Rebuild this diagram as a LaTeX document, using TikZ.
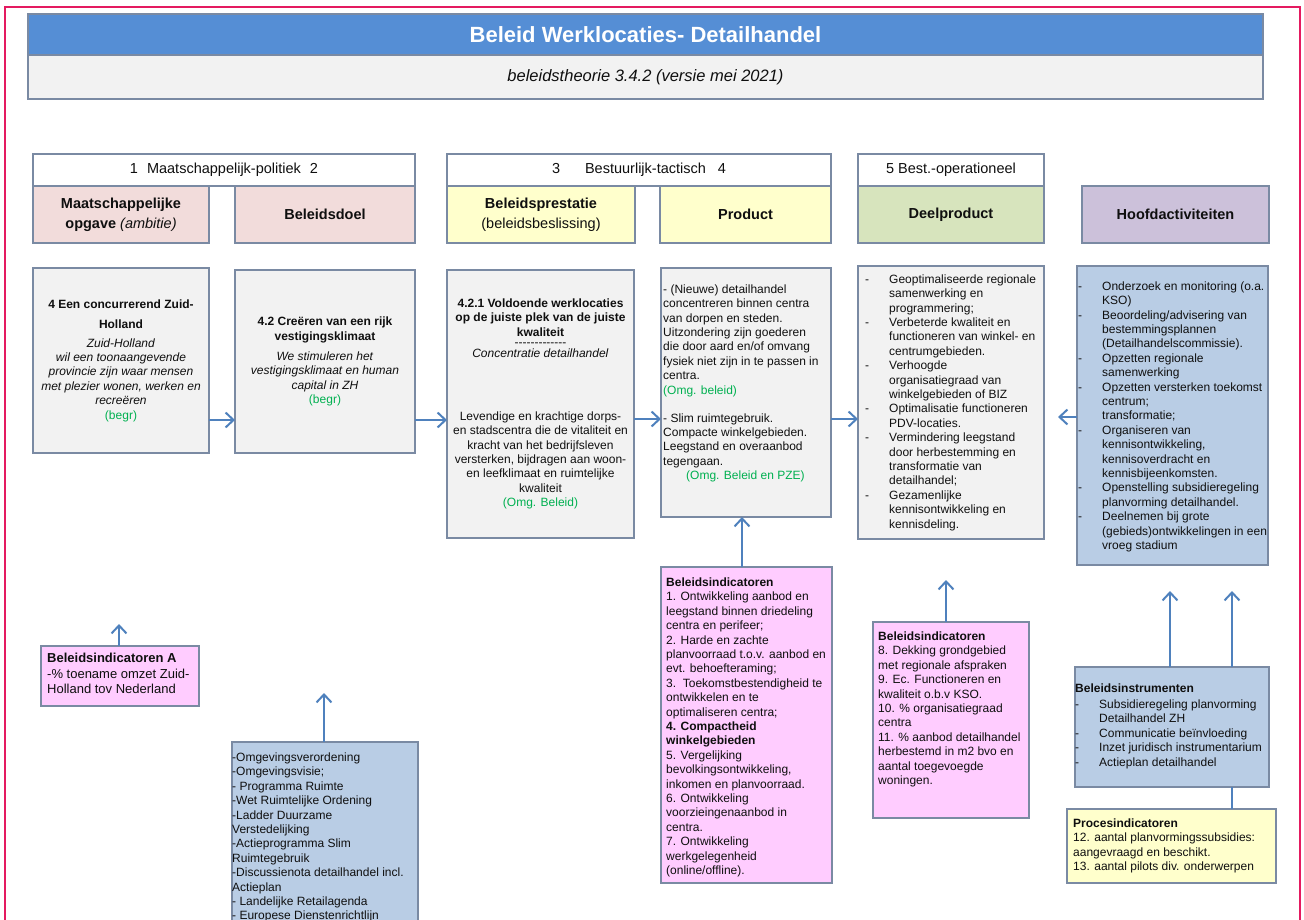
\documentclass[tikz,border=0pt]{standalone}
\usepackage{fontspec}
\setmainfont{Liberation Sans}
\usetikzlibrary{arrows.meta}
\definecolor{titelblauw}{RGB}{85,142,213}
\definecolor{lichtgrijs}{RGB}{242,242,242}
\definecolor{kader}{RGB}{122,138,163}
\definecolor{rand}{RGB}{228,26,96}
\definecolor{roze}{RGB}{242,220,219}
\definecolor{geel}{RGB}{255,255,204}
\definecolor{groen}{RGB}{215,228,189}
\definecolor{paars}{RGB}{204,193,218}
\definecolor{blauw}{RGB}{185,205,229}
\definecolor{indicator}{RGB}{255,204,255}
\definecolor{pijlkleur}{RGB}{79,129,189}
\definecolor{bron}{RGB}{0,176,80}
\definecolor{tekst}{RGB}{15,15,15}
\newcommand{\streep}[1][24pt]{\makebox[#1][l]{-}}
\newcommand{\inspr}[1][24pt]{\hspace*{#1}}
\begin{document}
\begin{tikzpicture}[x=1pt,y=-1pt,
  font=\fontsize{12}{14.4}\selectfont, text=tekst,
  vak/.style={draw=kader,line width=1.2pt,inner sep=0pt,outer sep=0pt},
  kop/.style={vak,fill=white,minimum height=32,font=\fontsize{14.5}{17.4}\selectfont},
  soort/.style={vak,minimum height=57,align=center,font=\fontsize{14.5}{17.4}\selectfont\bfseries},
  inhoud/.style={vak,fill=lichtgrijs,align=center},
  txt/.style={inner sep=0pt,align=left,anchor=north west},
  pijl/.style={draw=pijlkleur,line width=2pt,-{Straight Barb[length=8pt,width=15pt]}},
  lijn/.style={draw=pijlkleur,line width=2pt}]
\useasboundingbox (0,0) rectangle (1304,920);
\clip (0,0) rectangle (1304,920);
\draw [rand,line width=1.5pt] (5,930) |- (1300,7) -- (1300,930);

% titel
\node [vak,fill=titelblauw,minimum width=1235,minimum height=41,text=white,
  font=\fontsize{22}{26}\selectfont\bfseries] (titel) at (645.5,34.5) {Beleid Werklocaties- Detailhandel};
\node [vak,fill=lichtgrijs,minimum width=1235,minimum height=44,
  font=\fontsize{16.5}{20}\selectfont\itshape] (versie) at (645.5,77) {beleidstheorie 3.4.2 (versie mei 2021)};

% kolomkoppen
\node [kop,minimum width=382] (kop12) at (224,170) {1\hspace{9pt}Maatschappelijk-politiek\hspace{9pt}2};
\node [kop,minimum width=384] (kop34) at (639,170) {3\hspace{25pt}Bestuurlijk-tactisch\hspace{12pt}4};
\node [kop,minimum width=186] (kop5) at (951,170) {5 Best.-operationeel};

\node [soort,fill=roze,minimum width=176] (opgave) at (121,214.5) {Maatschappelijke\\[3pt]opgave {\mdseries\itshape (ambitie)}};
\node [soort,fill=roze,minimum width=180] (doel) at (325,214.5) {Beleidsdoel};
\node [soort,fill=geel,minimum width=188] (prestatie) at (541,214.5) {Beleidsprestatie\\[3pt]{\mdseries (beleidsbeslissing)}};
\node [soort,fill=geel,minimum width=171] (product) at (745.5,214.5) {Product};
\node [soort,fill=groen,minimum width=186] (deelproduct) at (951,214.5) {Deelproduct};
\node [soort,fill=paars,minimum width=187] (hoofdact) at (1175.5,214.5) {Hoofdactiviteiten};

% inhoud
\node [inhoud,minimum width=176,minimum height=185] (doelA) at (121,360.5) {%
\textbf{4 Een concurrerend Zuid-}\\[5.6pt]
\textbf{Holland}\\[4.6pt]
\textit{Zuid-Holland}\\
\textit{wil een toonaangevende}\\
\textit{provincie zijn waar mensen}\\
\textit{met plezier wonen, werken en}\\
\textit{recreëren}\\
\textcolor{bron}{(begr)}};
\node [inhoud,minimum width=180,minimum height=183] (doelB) at (325,361.5) {%
\textbf{4.2 Creëren van een rijk}\\[0.6pt]
\textbf{vestigingsklimaat}\\[5.6pt]
\textit{We stimuleren het}\\
\textit{vestigingsklimaat en human}\\
\textit{capital in ZH}\\
\textcolor{bron}{(begr)}};
\node [inhoud,minimum width=187,minimum height=268] (prestC) at (540.5,404) {%
\textbf{4.2.1 Voldoende werklocaties}\\
\textbf{op de juiste plek van de juiste}\\
\textbf{kwaliteit}\\[-3.9pt]
-{}-{}-{}-{}-{}-{}-{}-{}-{}-{}-{}-{}-\\[-3.9pt]
\textit{Concentratie detailhandel}\\[48.6pt]
Levendige en krachtige dorps-\\
en stadscentra die de vitaliteit en\\
kracht van het bedrijfsleven\\
versterken, bijdragen aan woon-\\
en leefklimaat en ruimtelijke\\
kwaliteit\\
\textcolor{bron}{(Omg. Beleid)}};
\node [vak,fill=lichtgrijs,minimum width=170,minimum height=249] (prodD) at (746,392.5) {};
\node [vak,fill=lichtgrijs,minimum width=186,minimum height=273] (deelE) at (951,402.5) {};
\node [vak,fill=blauw,minimum width=191,minimum height=299] (actF) at (1172.5,415.5) {};

\node [txt] (tekstD) at (663,284.5) {%
- (Nieuwe) detailhandel\\
concentreren binnen centra\\
van dorpen en steden.\\
Uitzondering zijn goederen\\
die door aard en/of omvang\\
fysiek niet zijn in te passen in\\
centra.\\
\textcolor{bron}{(Omg. beleid)}\\[13.6pt]
- Slim ruimtegebruik.\\
Compacte winkelgebieden.\\
Leegstand en overaanbod\\
tegengaan.\\
\hspace*{23pt}\textcolor{bron}{(Omg. Beleid en PZE)}};
\node [txt] (tekstE) at (865,274.5) {%
\streep Geoptimaliseerde regionale\\
\inspr samenwerking en\\
\inspr programmering;\\
\streep Verbeterde kwaliteit en\\
\inspr functioneren van winkel- en\\
\inspr centrumgebieden.\\
\streep Verhoogde\\
\inspr organisatiegraad van\\
\inspr winkelgebieden of BIZ\\
\streep Optimalisatie functioneren\\
\inspr PDV-locaties.\\
\streep Vermindering leegstand\\
\inspr door herbestemming en\\
\inspr transformatie van\\
\inspr detailhandel;\\
\streep Gezamenlijke\\
\inspr kennisontwikkeling en\\
\inspr kennisdeling.};
\node [txt] (tekstF) at (1078,281.5) {%
\streep Onderzoek en monitoring (o.a.\\
\inspr KSO)\\
\streep Beoordeling/advisering van\\
\inspr bestemmingsplannen\\
\inspr (Detailhandelscommissie).\\
\streep Opzetten regionale\\
\inspr samenwerking\\
\streep Opzetten versterken toekomst\\
\inspr centrum;\\
\inspr transformatie;\\
\streep Organiseren van\\
\inspr kennisontwikkeling,\\
\inspr kennisoverdracht en\\
\inspr kennisbijeenkomsten.\\
\streep Openstelling subsidieregeling\\
\inspr planvorming detailhandel.\\
\streep Deelnemen bij grote\\
\inspr (gebieds)ontwikkelingen in een\\
\inspr vroeg stadium};

% indicatoren en instrumenten
\node [vak,fill=indicator,minimum width=158,minimum height=60] (indA) at (120,676) {};
\node [vak,fill=blauw,minimum width=186,minimum height=188] (instrG) at (325,836) {};
\node [vak,fill=indicator,minimum width=171,minimum height=316] (indH) at (746.5,725) {};
\node [vak,fill=indicator,minimum width=156,minimum height=196] (indI) at (951,720) {};
\node [vak,fill=blauw,minimum width=194,minimum height=120] (instrJ) at (1172,727) {};
\node [vak,fill=geel,minimum width=209,minimum height=74] (procK) at (1171.5,846) {};

\node [txt,font=\fontsize{13}{15.6}\selectfont] (tekstA) at (47,653) {%
\textbf{Beleidsindicatoren A}\\
-\% toename omzet Zuid-\\
Holland tov Nederland};
\node [txt] (tekstG) at (232,752.5) {%
-Omgevingsverordening\\
-Omgevingsvisie;\\
- Programma Ruimte\\
-Wet Ruimtelijke Ordening\\
-Ladder Duurzame\\
Verstedelijking\\
-Actieprogramma Slim\\
Ruimtegebruik\\
-Discussienota detailhandel incl.\\
Actieplan\\
- Landelijke Retailagenda\\
- Europese Dienstenrichtlijn};
\node [txt] (tekstH) at (666,577.5) {%
\textbf{Beleidsindicatoren}\\
1. Ontwikkeling aanbod en\\
leegstand binnen driedeling\\
centra en perifeer;\\
2. Harde en zachte\\
planvoorraad t.o.v. aanbod en\\
evt. behoefteraming;\\
3.\ \ Toekomstbestendigheid te\\
ontwikkelen en te\\
optimaliseren centra;\\
\textbf{4. Compactheid}\\
\textbf{winkelgebieden}\\
5. Vergelijking\\
bevolkingsontwikkeling,\\
inkomen en planvoorraad.\\
6. Ontwikkeling\\
voorzieingenaanbod in\\
centra.\\
7. Ontwikkeling\\
werkgelegenheid\\
(online/offline).};
\node [txt] (tekstI) at (878,631.5) {%
\textbf{Beleidsindicatoren}\\
8. Dekking grondgebied\\
met regionale afspraken\\
9. Ec. Functioneren en\\
kwaliteit o.b.v KSO.\\
10. \% organisatiegraad\\
centra\\
11. \% aanbod detailhandel\\
herbestemd in m2 bvo en\\
aantal toegevoegde\\
woningen.};
\node [txt] (tekstJ) at (1075,683.5) {%
\textbf{Beleidsinstrumenten}\\[1.6pt]
\streep Subsidieregeling planvorming\\
\inspr Detailhandel ZH\\
\streep Communicatie beïnvloeding\\
\streep Inzet juridisch instrumentarium\\
\streep Actieplan detailhandel};
\node [txt] (tekstK) at (1073,818.5) {%
\textbf{Procesindicatoren}\\
12. aantal planvormingssubsidies:\\
aangevraagd en beschikt.\\
13. aantal pilots div. onderwerpen};

% pijlen
\coordinate (rij1) at (0,420);
\coordinate (rij2) at (0,419);
\coordinate (pE) at (1058,417);
\coordinate (kH) at (742,0);
\coordinate (pA) at (119,624);
\coordinate (pG) at (324,693);
\coordinate (pI) at (946,580);
\coordinate (pJ1) at (1170,591);
\coordinate (pJ2) at (1232,591);
\draw [pijl] (doelA.east |- rij1) -- (doelB.west |- rij1);
\draw [pijl] (doelB.east |- rij1) -- (prestC.west |- rij1);
\draw [pijl] (prestC.east |- rij2) -- (prodD.west |- rij2);
\draw [pijl] (prodD.east |- rij2) -- (deelE.west |- rij2);
\draw [pijl] (actF.west |- pE) -- (pE);
\draw [pijl] (indH.north -| kH) -- (prodD.south -| kH);
\draw [pijl] (indA.north -| pA) -- (pA);
\draw [pijl] (instrG.north -| pG) -- (pG);
\draw [pijl] (indI.north -| pI) -- (pI);
\draw [pijl] (instrJ.north -| pJ1) -- (pJ1);
\draw [pijl] (instrJ.north -| pJ2) -- (pJ2);
\draw [lijn] (instrJ.south -| pJ2) -- (procK.north -| pJ2);
\end{tikzpicture}
\end{document}
